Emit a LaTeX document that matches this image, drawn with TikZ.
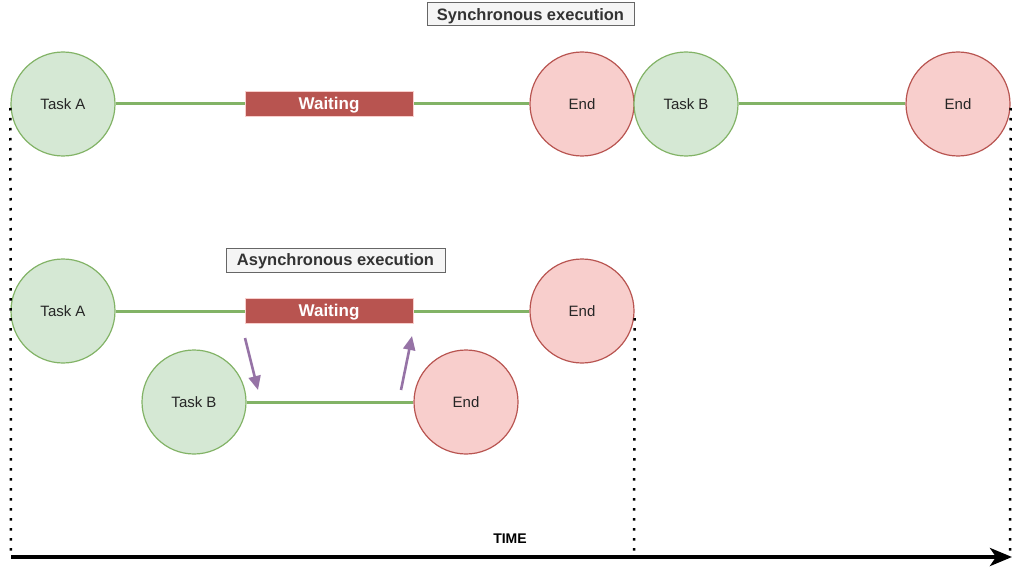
\documentclass[tikz,border=0pt]{standalone}
\usepackage{fontspec}
\setmainfont{Liberation Sans}
\usetikzlibrary{arrows.meta}
\definecolor{gfill}{HTML}{D5E8D4}
\definecolor{gline}{HTML}{82B366}
\definecolor{rfill}{HTML}{F8CECC}
\definecolor{rline}{HTML}{B85450}
\definecolor{tfill}{HTML}{F5F5F5}
\definecolor{tline}{HTML}{666666}
\definecolor{purp}{HTML}{9673A6}
\begin{document}
\begin{tikzpicture}[x=1pt,y=-1pt,
  task/.style={circle,draw=gline,fill=gfill,line width=1.2pt,minimum size=104pt,inner sep=0pt,font=\fontsize{15}{17}\selectfont,text=black!85},
  endc/.style={circle,draw=rline,fill=rfill,line width=1.2pt,minimum size=104pt,inner sep=0pt,font=\fontsize{15}{17}\selectfont,text=black!85},
  waitbox/.style={rectangle,fill=rline,draw=rfill,line width=0.6pt,minimum width=168pt,minimum height=25pt,inner sep=0pt,text=white,text height=12pt,text depth=0pt,font=\bfseries\fontsize{17}{19}\selectfont},
  titlebox/.style={rectangle,draw=tline,fill=tfill,line width=1pt,inner sep=0pt,text height=12pt,text depth=0.5pt,font=\bfseries\fontsize{16.5}{19}\selectfont,text=black!80},
  flow/.style={draw=gline,line width=3pt},
  hint/.style={draw=purp,line width=2.6pt,-{Triangle[length=14pt,width=12pt]}},
  dots/.style={draw=black,line width=2.5pt,dash pattern=on 2.5pt off 7.5pt},
]
\useasboundingbox (0,0) rectangle (1024,572);
% synchronous
\node[titlebox,minimum width=207pt,minimum height=23pt] (synt) at (530.5,14.5) {Synchronous execution};
\node[task] (sA) at (63,104) {Task A};
\node[endc] (sE1) at (582,104) {End};
\node[task] (sB) at (686,104) {Task B};
\node[endc] (sE2) at (958,104) {End};
\draw[flow] (sA) -- (sE1);
\draw[flow] (sB) -- (sE2);
\node[waitbox] (sW) at (329,103.5) {Waiting};
% asynchronous
\node[titlebox,minimum width=219pt,minimum height=24pt] (asynt) at (335.5,260) {Asynchronous execution};
\node[task] (aA) at (63,311) {Task A};
\node[endc] (aE1) at (582,311) {End};
\node[task] (aB) at (194,402) {Task B};
\node[endc] (aE2) at (466,402) {End};
\draw[flow] (aA) -- (aE1);
\draw[flow] (aB) -- (aE2);
\node[waitbox] (aW) at (329,310.5) {Waiting};
\coordinate (h1s) at (245,338);
\coordinate (h1e) at (258,390);
\coordinate (h2s) at (401,390);
\coordinate (h2e) at (412,336);
\draw[hint] (h1s) -- (h1e);
\draw[hint] (h2s) -- (h2e);
% time
\coordinate (d1) at (11,555);
\coordinate (d2) at (634,555);
\coordinate (d3) at (1010,555);
\draw[dots] (sA.west) ++(0,4) -- (d1);
\draw[dots] (aE1.east) ++(0,7) -- (d2);
\draw[dots] (sE2.east) ++(0,4) -- (d3);
\coordinate (t0) at (11,557);
\coordinate (t1) at (1012,557);
\draw[line width=4pt,-{Stealth[length=22pt,width=18pt,inset=6pt]}] (t0) -- (t1);
\node[font=\bfseries\fontsize{14}{16}\selectfont] (time) at (510,539) {TIME};
\end{tikzpicture}
\end{document}
